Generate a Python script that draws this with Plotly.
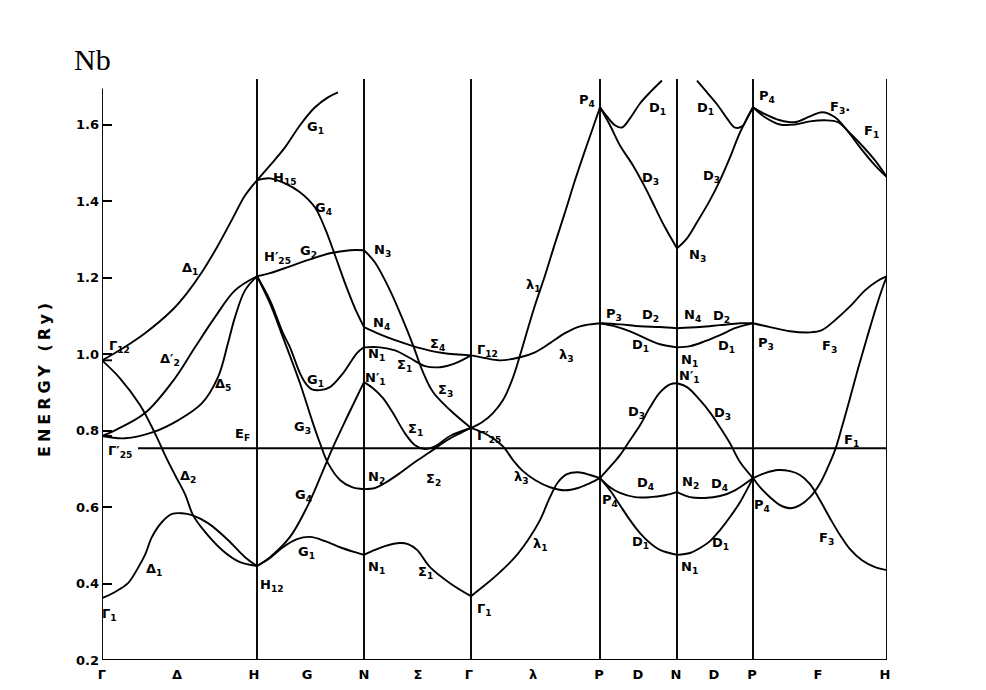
import plotly.graph_objects as go

# ---------------- axis data ----------------
sym_k = [0, 155, 262, 369, 498, 575, 651, 785]          # Γ H N Γ P N P H
xtick_k = [0, 75, 152, 205, 262, 316, 367, 431, 497, 536, 574, 612, 650, 716, 783]
xtick_text = ["Γ", "Δ", "H", "G", "N", "Σ", "Γ", "λ", "P", "D", "N", "D", "P", "F", "H"]
ytick_vals = [0.2, 0.4, 0.6, 0.8, 1.0, 1.2, 1.4, 1.6]
ytick_text = ["0.2", "0.4", "0.6", "0.8", "1.0", "1.2", "1.4", "1.6"]
E_F = 0.754
E_F_start_k = 36

# ---------------- bands: Γ–H (Δ) ----------------
delta1_low_k = [0, 3, 13, 26, 36, 43, 50, 60, 70, 80, 90, 106, 126, 143, 155]
delta1_low_E = [0.362, 0.365, 0.378, 0.401, 0.441, 0.475, 0.522, 0.561, 0.582, 0.584, 0.579, 0.558, 0.514, 0.469, 0.446]
delta2_k = [0, 18, 38, 53, 63, 73, 83, 91, 100, 120, 138, 155]
delta2_E = [0.984, 0.937, 0.867, 0.793, 0.736, 0.684, 0.634, 0.579, 0.545, 0.488, 0.456, 0.446]
delta1_up_k = [0, 13, 43, 70, 85, 100, 115, 130, 143, 155]
delta1_up_E = [0.984, 1.003, 1.055, 1.115, 1.16, 1.215, 1.28, 1.352, 1.415, 1.455]
delta2p_k = [0, 13, 43, 73, 93, 113, 133, 155]
delta2p_E = [0.786, 0.801, 0.846, 0.937, 1.018, 1.097, 1.167, 1.204]
delta5_k = [0, 23, 51, 76, 100, 116, 126, 133, 143, 155]
delta5_E = [0.786, 0.78, 0.796, 0.827, 0.872, 0.94, 1.029, 1.097, 1.167, 1.204]

# ---------------- bands: H–N (G) ----------------
g1_up_k = [155, 168, 183, 198, 213, 226, 236]
g1_up_E = [1.455, 1.494, 1.541, 1.599, 1.646, 1.672, 1.685]
g4_up_k = [155, 168, 183, 198, 213, 223, 233, 243, 253, 262]
g4_up_E = [1.455, 1.46, 1.447, 1.424, 1.384, 1.329, 1.259, 1.186, 1.12, 1.071]
g2_k = [155, 168, 188, 208, 228, 248, 262]
g2_E = [1.204, 1.212, 1.23, 1.248, 1.264, 1.272, 1.272]
g1_mid_k = [155, 168, 181, 188, 198, 205, 210, 218, 228, 241, 255, 262]
g1_mid_E = [1.204, 1.141, 1.055, 1.018, 0.95, 0.919, 0.908, 0.906, 0.914, 0.95, 1.003, 1.018]
g3_k = [155, 168, 181, 198, 210, 218, 226, 238, 250, 262]
g3_E = [1.204, 1.133, 1.044, 0.924, 0.827, 0.767, 0.715, 0.671, 0.652, 0.647]
g4_low_k = [155, 168, 188, 205, 220, 231, 245, 262]
g4_low_E = [0.446, 0.469, 0.522, 0.6, 0.689, 0.757, 0.835, 0.927]
g1_low_k = [155, 168, 181, 195, 208, 223, 238, 253, 262]
g1_low_E = [0.446, 0.467, 0.495, 0.516, 0.522, 0.511, 0.495, 0.482, 0.475]

# ---------------- bands: N–Γ (Σ) ----------------
s4_k = [262, 278, 293, 315, 341, 369]
s4_E = [1.071, 1.052, 1.037, 1.018, 1.003, 0.997]
s1_up_k = [262, 278, 293, 308, 323, 338, 353, 369]
s1_up_E = [1.018, 1.018, 1.01, 0.99, 0.969, 0.966, 0.976, 0.997]
s3_k = [262, 273, 288, 301, 311, 321, 331, 348, 369]
s3_E = [1.272, 1.24, 1.167, 1.089, 1.024, 0.953, 0.901, 0.854, 0.807]
s1_mid_k = [262, 271, 281, 291, 303, 313, 323, 333, 348, 369]
s1_mid_E = [0.927, 0.911, 0.885, 0.846, 0.793, 0.762, 0.752, 0.759, 0.786, 0.807]
s2_k = [262, 273, 283, 298, 313, 328, 345, 358, 369]
s2_E = [0.647, 0.65, 0.663, 0.689, 0.718, 0.744, 0.775, 0.793, 0.807]
s1_low_k = [262, 273, 283, 298, 306, 315, 328, 348, 369]
s1_low_E = [0.475, 0.488, 0.498, 0.506, 0.503, 0.488, 0.443, 0.401, 0.367]

# ---------------- bands: Γ–P (λ) ----------------
l1_up_k = [369, 380, 391, 401, 410, 418, 426, 433, 443, 453, 463, 473, 483, 491, 498]
l1_up_E = [0.807, 0.822, 0.846, 0.88, 0.932, 0.997, 1.068, 1.128, 1.206, 1.29, 1.371, 1.455, 1.533, 1.593, 1.646]
l3_up_k = [369, 383, 398, 418, 433, 448, 463, 478, 498]
l3_up_E = [0.997, 0.99, 0.984, 0.992, 1.005, 1.029, 1.055, 1.073, 1.081]
l3_low_k = [369, 386, 401, 411, 421, 433, 448, 463, 476, 488, 498]
l3_low_E = [0.807, 0.788, 0.759, 0.723, 0.694, 0.671, 0.652, 0.644, 0.65, 0.663, 0.676]
l1_low_k = [369, 383, 398, 413, 426, 438, 448, 456, 465, 476, 488, 498]
l1_low_E = [0.367, 0.396, 0.43, 0.469, 0.514, 0.566, 0.626, 0.665, 0.686, 0.691, 0.684, 0.676]

# ---------------- bands: P–N (D) ----------------
d1_topL_k = [498, 505, 513, 520, 528, 538, 548, 560]
d1_topL_E = [1.646, 1.622, 1.599, 1.593, 1.617, 1.656, 1.685, 1.716]
d3_topL_k = [498, 508, 518, 531, 543, 553, 563, 575]
d3_topL_E = [1.646, 1.599, 1.546, 1.494, 1.437, 1.384, 1.332, 1.277]
d2_L_k = [498, 518, 538, 558, 575]
d2_L_E = [1.081, 1.078, 1.073, 1.071, 1.068]
d1_midL_k = [498, 513, 528, 543, 558, 575]
d1_midL_E = [1.081, 1.073, 1.06, 1.042, 1.026, 1.018]
d3_midL_k = [498, 508, 518, 528, 538, 548, 558, 568, 575]
d3_midL_E = [0.676, 0.705, 0.736, 0.775, 0.814, 0.861, 0.9, 0.921, 0.924]
d4_L_k = [498, 508, 518, 533, 548, 563, 575]
d4_L_E = [0.676, 0.652, 0.637, 0.626, 0.626, 0.631, 0.639]
d1_lowL_k = [498, 508, 518, 528, 538, 548, 558, 575]
d1_lowL_E = [0.676, 0.644, 0.605, 0.566, 0.532, 0.506, 0.488, 0.475]

# ---------------- bands: N–P (D) ----------------
d1_topR_k = [595, 605, 615, 625, 633, 640, 646, 651]
d1_topR_E = [1.716, 1.685, 1.654, 1.617, 1.593, 1.596, 1.622, 1.646]
d3_topR_k = [575, 585, 595, 608, 618, 628, 638, 651]
d3_topR_E = [1.277, 1.303, 1.345, 1.403, 1.455, 1.515, 1.58, 1.646]
d2_R_k = [575, 598, 618, 638, 651]
d2_R_E = [1.068, 1.071, 1.076, 1.081, 1.081]
d1_midR_k = [575, 588, 603, 618, 633, 643, 651]
d1_midR_E = [1.018, 1.021, 1.034, 1.05, 1.068, 1.076, 1.081]
d3_midR_k = [575, 585, 598, 608, 618, 628, 638, 651]
d3_midR_E = [0.924, 0.914, 0.88, 0.848, 0.809, 0.767, 0.718, 0.676]
d4_R_k = [575, 588, 603, 618, 633, 651]
d4_R_E = [0.639, 0.626, 0.624, 0.629, 0.644, 0.676]
d1_lowR_k = [575, 588, 598, 608, 618, 628, 638, 651]
d1_lowR_E = [0.475, 0.48, 0.493, 0.511, 0.54, 0.574, 0.613, 0.676]

# ---------------- bands: P–H (F) ----------------
f3_top_k = [651, 663, 678, 693, 708, 720, 733, 745, 758, 773, 785]
f3_top_E = [1.646, 1.628, 1.612, 1.607, 1.622, 1.633, 1.62, 1.586, 1.541, 1.494, 1.463]
f1_top_k = [651, 663, 678, 693, 708, 723, 736, 748, 760, 773, 785]
f1_top_E = [1.646, 1.62, 1.601, 1.601, 1.609, 1.612, 1.607, 1.578, 1.546, 1.507, 1.463]
f3_mid_k = [651, 668, 688, 708, 720, 733, 748, 763, 775, 785]
f3_mid_E = [1.081, 1.071, 1.06, 1.057, 1.063, 1.089, 1.125, 1.167, 1.191, 1.204]
f1_k = [651, 658, 668, 678, 688, 698, 708, 718, 726, 733, 740, 748, 756, 765, 775, 781, 785]
f1_E = [0.676, 0.652, 0.626, 0.605, 0.597, 0.605, 0.626, 0.662, 0.705, 0.749, 0.81, 0.885, 0.962, 1.043, 1.13, 1.177, 1.204]
f3_low_k = [651, 663, 676, 688, 698, 708, 718, 728, 738, 748, 760, 773, 785]
f3_low_E = [0.676, 0.689, 0.697, 0.694, 0.684, 0.66, 0.618, 0.571, 0.527, 0.49, 0.461, 0.443, 0.435]

bands = [
    (delta1_low_k, delta1_low_E), (delta2_k, delta2_E), (delta1_up_k, delta1_up_E),
    (delta2p_k, delta2p_E), (delta5_k, delta5_E),
    (g1_up_k, g1_up_E), (g4_up_k, g4_up_E), (g2_k, g2_E), (g1_mid_k, g1_mid_E),
    (g3_k, g3_E), (g4_low_k, g4_low_E), (g1_low_k, g1_low_E),
    (s4_k, s4_E), (s1_up_k, s1_up_E), (s3_k, s3_E), (s1_mid_k, s1_mid_E),
    (s2_k, s2_E), (s1_low_k, s1_low_E),
    (l1_up_k, l1_up_E), (l3_up_k, l3_up_E), (l3_low_k, l3_low_E), (l1_low_k, l1_low_E),
    (d1_topL_k, d1_topL_E), (d3_topL_k, d3_topL_E), (d2_L_k, d2_L_E), (d1_midL_k, d1_midL_E),
    (d3_midL_k, d3_midL_E), (d4_L_k, d4_L_E), (d1_lowL_k, d1_lowL_E),
    (d1_topR_k, d1_topR_E), (d3_topR_k, d3_topR_E), (d2_R_k, d2_R_E), (d1_midR_k, d1_midR_E),
    (d3_midR_k, d3_midR_E), (d4_R_k, d4_R_E), (d1_lowR_k, d1_lowR_E),
    (f3_top_k, f3_top_E), (f1_top_k, f1_top_E), (f3_mid_k, f3_mid_E), (f1_k, f1_E),
    (f3_low_k, f3_low_E),
]

# ---------------- labels (text, k, E) ----------------
labels = [
    ("Γ<sub>12</sub>", 17, 1.021), ("Δ<sub>1</sub>", 88, 1.225), ("Δ′<sub>2</sub>", 68, 0.987),
    ("Δ<sub>5</sub>", 121, 0.922), ("Γ′<sub>25</sub>", 18, 0.746), ("E<sub>F</sub>", 140, 0.789),
    ("Δ<sub>2</sub>", 86, 0.681), ("Δ<sub>1</sub>", 52, 0.438), ("Γ<sub>1</sub>", 7, 0.320),
    ("H<sub>15</sub>", 183, 1.460), ("G<sub>1</sub>", 213, 1.593), ("G<sub>4</sub>", 221, 1.382),
    ("H′<sub>25</sub>", 175, 1.254), ("G<sub>2</sub>", 206, 1.269), ("N<sub>3</sub>", 280, 1.272),
    ("N<sub>4</sub>", 279, 1.081), ("Σ<sub>4</sub>", 335, 1.026), ("Γ<sub>12</sub>", 385, 1.010),
    ("N<sub>1</sub>", 274, 1.000), ("Σ<sub>1</sub>", 302, 0.971), ("N′<sub>1</sub>", 273, 0.937),
    ("G<sub>1</sub>", 213, 0.932), ("Σ<sub>3</sub>", 343, 0.906), ("G<sub>3</sub>", 200, 0.807),
    ("Σ<sub>1</sub>", 313, 0.804), ("Γ′<sub>25</sub>", 387, 0.786), ("N<sub>2</sub>", 274, 0.678),
    ("Σ<sub>2</sub>", 331, 0.673), ("G<sub>4</sub>", 201, 0.631), ("λ<sub>3</sub>", 419, 0.678),
    ("P<sub>4</sub>", 508, 0.618), ("G<sub>1</sub>", 204, 0.480), ("N<sub>1</sub>", 274, 0.443),
    ("Σ<sub>1</sub>", 323, 0.430), ("λ<sub>1</sub>", 438, 0.501), ("H<sub>12</sub>", 170, 0.396),
    ("Γ<sub>1</sub>", 382, 0.331), ("λ<sub>1</sub>", 431, 1.180), ("λ<sub>3</sub>", 464, 0.997),
    ("P<sub>4</sub>", 485, 1.664), ("P<sub>3</sub>", 512, 1.105), ("D<sub>2</sub>", 548, 1.102),
    ("D<sub>1</sub>", 538, 1.024), ("D<sub>3</sub>", 534, 0.848), ("D<sub>4</sub>", 543, 0.663),
    ("D<sub>1</sub>", 538, 0.508), ("D<sub>1</sub>", 555, 1.643), ("D<sub>3</sub>", 548, 1.460),
    ("D<sub>1</sub>", 603, 1.643), ("D<sub>3</sub>", 609, 1.465), ("N<sub>3</sub>", 595, 1.259),
    ("N<sub>4</sub>", 590, 1.102), ("D<sub>2</sub>", 619, 1.099), ("N<sub>1</sub>", 587, 0.984),
    ("N′<sub>1</sub>", 587, 0.942), ("D<sub>1</sub>", 624, 1.021), ("D<sub>3</sub>", 620, 0.846),
    ("N<sub>2</sub>", 588, 0.665), ("D<sub>4</sub>", 617, 0.660), ("D<sub>1</sub>", 618, 0.506),
    ("N<sub>1</sub>", 587, 0.441), ("P<sub>4</sub>", 665, 1.674), ("F<sub>3</sub>.", 738, 1.646),
    ("F<sub>1</sub>", 769, 1.583), ("H<sub>15</sub>", 803, 1.447), ("H′<sub>25</sub>", 808, 1.193),
    ("P<sub>3</sub>", 664, 1.029), ("F<sub>3</sub>", 727, 1.021), ("F<sub>1</sub>", 749, 0.775),
    ("P<sub>4</sub>", 660, 0.603), ("F<sub>3</sub>", 724, 0.519), ("H<sub>12</sub>", 800, 0.420),
]

LINE_W = 1.9
FONT = "DejaVu Sans"
LABEL_FONT = dict(family=FONT, size=13, color="black", weight="bold")

fig = go.Figure()
for bk, be in bands:
    fig.add_trace(go.Scatter(
        x=bk, y=be, mode="lines", hoverinfo="skip", showlegend=False,
        line=dict(color="black", width=LINE_W, shape="spline", smoothing=1.0),
    ))

shapes = []
shapes.append(dict(type="line", x0=sym_k[0], x1=sym_k[0], y0=0.2, y1=1.695,
                   line=dict(color="black", width=LINE_W)))
shapes.append(dict(type="line", x0=sym_k[0], x1=sym_k[-1], y0=0.2, y1=0.2,
                   line=dict(color="black", width=LINE_W)))
for kx in sym_k[1:]:
    shapes.append(dict(type="line", x0=kx, x1=kx, y0=0.2, y1=1.72,
                       line=dict(color="black", width=LINE_W)))
shapes.append(dict(type="line", x0=E_F_start_k, x1=sym_k[-1], y0=E_F, y1=E_F,
                   line=dict(color="black", width=LINE_W)))
for lev in (delta2_E[0], delta5_E[0]):
    shapes.append(dict(type="line", x0=0, x1=10, y0=lev, y1=lev,
                       line=dict(color="black", width=LINE_W)))

annotations = []
for txt, kx, ey in labels:
    annotations.append(dict(x=kx, y=ey, text=txt, showarrow=False, xanchor="center",
                            yanchor="middle", font=LABEL_FONT))
annotations.append(dict(xref="paper", yref="paper", x=-0.0127, y=1.033, text="Nb",
                        showarrow=False, xanchor="center", yanchor="middle",
                        font=dict(family="Liberation Serif", size=30, color="black")))
annotations.append(dict(xref="paper", yref="paper", x=-0.0726, y=0.4854,
                        text='<span style="letter-spacing:4px">ENERGY (Ry)</span>',
                        showarrow=False, textangle=-90, xanchor="center", yanchor="middle",
                        font=dict(family=FONT, size=16, color="black", weight="bold")))

fig.update_layout(
    width=986, height=690,
    margin=dict(l=94, r=107, t=71, b=38),
    paper_bgcolor="white", plot_bgcolor="white",
    shapes=shapes, annotations=annotations,
    xaxis=dict(range=[0, 785], showgrid=False, zeroline=False, showline=False,
               tickmode="array", tickvals=xtick_k, ticktext=xtick_text, ticks="",
               ticklabelstandoff=5, tickfont=LABEL_FONT, automargin=False),
    yaxis=dict(range=[0.2, 1.72], showgrid=False, zeroline=False, showline=False,
               tickmode="array", tickvals=ytick_vals, ticktext=ytick_text,
               ticks="inside", ticklen=10, tickwidth=LINE_W, tickcolor="black",
               ticklabelstandoff=2, tickfont=LABEL_FONT, automargin=False),
)

fig.write_html("out.html")
